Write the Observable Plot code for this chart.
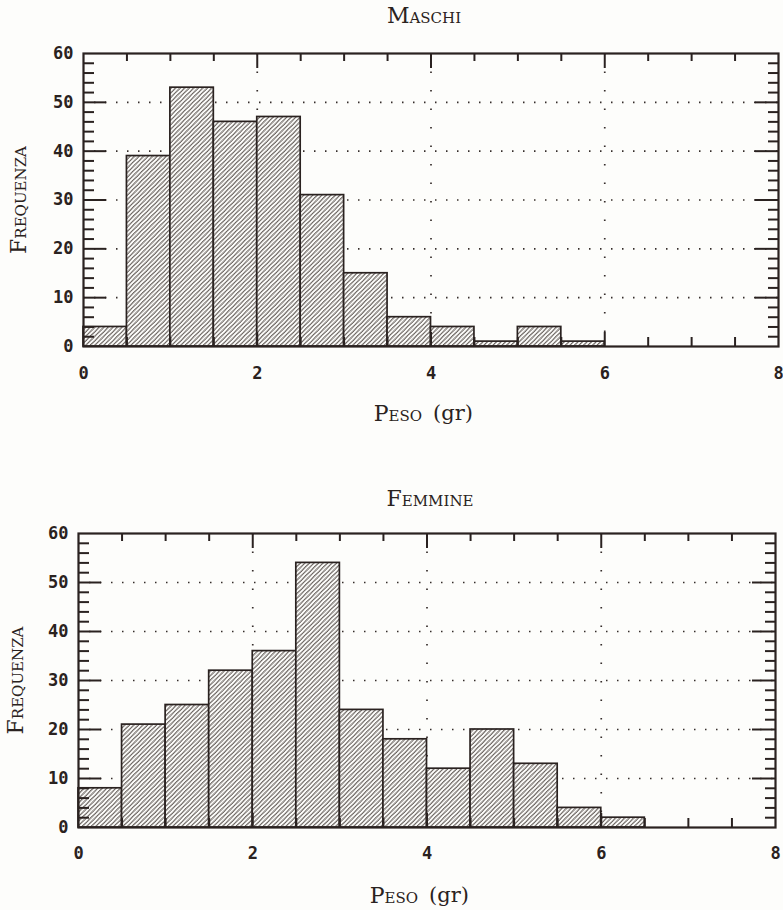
<!DOCTYPE html>
<html>
<head>
<meta charset="utf-8">
<script src="https://cdn.jsdelivr.net/npm/d3@7"></script>
<script src="https://cdn.jsdelivr.net/npm/@observablehq/plot@0.6"></script>
<style>
  html, body { margin: 0; padding: 0; background: #fdfdfb; }
  #wrap { width: 783px; }
  svg { display: block; }
</style>
</head>
<body>
<div id="wrap"></div>
<script>
// ---- data ----
const binStarts = [0, 0.5, 1, 1.5, 2, 2.5, 3, 3.5, 4, 4.5, 5, 5.5, 6, 6.5, 7, 7.5];
const binWidth = 0.5;
const maschiCounts  = [4, 39, 53, 46, 47, 31, 15, 6, 4, 1, 4, 1, 0, 0, 0, 0];
const femmineCounts = [8, 21, 25, 32, 36, 54, 24, 18, 12, 20, 13, 4, 2, 0, 0, 0];
const xTickLabels = [0, 2, 4, 6, 8];
const xGrid = [2, 4, 6];
const xMinor = [0.5, 1, 1.5, 2.5, 3, 3.5, 4.5, 5, 5.5, 6.5, 7, 7.5];
const yTickLabels = [0, 10, 20, 30, 40, 50, 60];
const yGrid = [10, 20, 30, 40, 50];
const yMinor = d3.range(2, 60, 2).filter(v => v % 10 !== 0);
const titles = ["Maschi", "Femmine"];
const xLabelMain = "Peso";
const xLabelUnit = "(gr)";
const yLabel = "Frequenza";

const ink = "#2a2220";
const tickFont = "'DejaVu Sans Mono', monospace";
const serif = "'DejaVu Serif', 'Liberation Serif', serif";

function hatchDefs(id) {
  return () => {
    const defs = d3.create("svg:defs");
    const s = 3.2;
    const p = defs.append("pattern")
      .attr("id", id)
      .attr("patternUnits", "userSpaceOnUse")
      .attr("width", s).attr("height", s)
      .attr("patternTransform", "rotate(45)");
    p.append("rect").attr("width", s).attr("height", s).attr("fill", "#fdfdfb");
    p.append("line")
      .attr("x1", 0.8).attr("y1", 0).attr("x2", 0.8).attr("y2", s)
      .attr("stroke", "#3a302c").attr("stroke-width", 1.2)
      .attr("stroke-dasharray", "1.1 0.5");
    return defs.node();
  };
}

function histogram(counts, title, m, opts) {
  const data = binStarts.map((x, i) => ({x1: x, x2: x + binWidth, n: counts[i]}));
  const W = 783 - m.left - m.right;
  const H = 455 - m.top - m.bottom;
  const id = "hatch-" + title;
  const labelStyle = {fontFamily: serif, fill: ink, lineAnchor: "middle"};
  return Plot.plot({
    width: 783,
    height: 455,
    marginTop: m.top,
    marginBottom: m.bottom,
    marginLeft: m.left,
    marginRight: m.right,
    style: {background: "transparent", color: ink},
    x: {domain: [0, 8]},
    y: {domain: [0, 60]},
    marks: [
      hatchDefs(id),
      // dotted grid
      Plot.ruleY(yGrid, {stroke: ink, strokeWidth: 1.7, strokeDasharray: "1.5 9.5", strokeOpacity: 0.95}),
      Plot.ruleX(xGrid, {stroke: ink, strokeWidth: 1.7, strokeDasharray: "1.5 17", strokeOpacity: 0.95}),
      // bars
      Plot.rectY(data, {filter: d => d.n > 0, x1: "x1", x2: "x2", y: "n",
        fill: `url(#${id})`, stroke: ink, strokeWidth: 1.7}),
      // y ticks left & right
      Plot.ruleY(yMinor, {stroke: ink, strokeWidth: 2, insetRight: W - 11}),
      Plot.ruleY(yGrid, {stroke: ink, strokeWidth: 2, insetRight: W - 23}),
      Plot.ruleY(yMinor, {stroke: ink, strokeWidth: 2, insetLeft: W - 10}),
      Plot.ruleY(yGrid, {stroke: ink, strokeWidth: 2, insetLeft: W - 23}),
      // x ticks top & bottom
      Plot.ruleX(xMinor, {stroke: ink, strokeWidth: 2, insetBottom: H - 8}),
      Plot.ruleX(xGrid, {stroke: ink, strokeWidth: 2, insetBottom: H - 15}),
      Plot.ruleX(xMinor, {stroke: ink, strokeWidth: 2, insetTop: H - 9}),
      Plot.ruleX(xGrid, {stroke: ink, strokeWidth: 2, insetTop: H - 14}),
      Plot.frame({stroke: ink, strokeWidth: 2.2}),
      // tick labels
      Plot.axisX(xTickLabels, {tickSize: 0, tickPadding: opts.xPad, fontSize: 17, fontWeight: "bold", fontFamily: tickFont, label: null, fill: ink}),
      Plot.axisY(yTickLabels, {tickSize: 0, tickPadding: 10, fontSize: 17, fontWeight: "bold", fontFamily: tickFont, label: null, fill: ink}),
      // title
      Plot.text([title], {...labelStyle, frameAnchor: "top", textAnchor: "middle", dx: opts.titleDx, dy: opts.titleDy,
        fontSize: 22, fontVariant: "small-caps", letterSpacing: 1.8}),
      // x label
      Plot.text([xLabelMain], {...labelStyle, frameAnchor: "bottom", textAnchor: "end", dx: opts.xLabelDx - 9, dy: opts.xLabelDy,
        fontSize: 22, fontVariant: "small-caps", letterSpacing: 3.5}),
      Plot.text([xLabelUnit], {...labelStyle, frameAnchor: "bottom", textAnchor: "start", dx: opts.xLabelDx + 2, dy: opts.xLabelDy,
        fontSize: 21}),
      // y label
      Plot.text([yLabel], {...labelStyle, frameAnchor: "left", textAnchor: "middle", dx: opts.yLabelDx, rotate: -90,
        fontSize: 22, fontVariant: "small-caps", letterSpacing: 4})
    ]
  });
}

const wrap = document.getElementById("wrap");
wrap.append(histogram(maschiCounts, titles[0],
  {top: 53, bottom: 109, left: 83, right: 5},
  {xPad: 20, titleDx: -7, titleDy: -38, xLabelDx: 0, xLabelDy: 67, yLabelDx: -65}));
wrap.append(histogram(femmineCounts, titles[1],
  {top: 78, bottom: 83, left: 78, right: 8},
  {xPad: 19, titleDx: 3, titleDy: -35, xLabelDx: 0, xLabelDy: 68, yLabelDx: -63}));
</script>
</body>
</html>
